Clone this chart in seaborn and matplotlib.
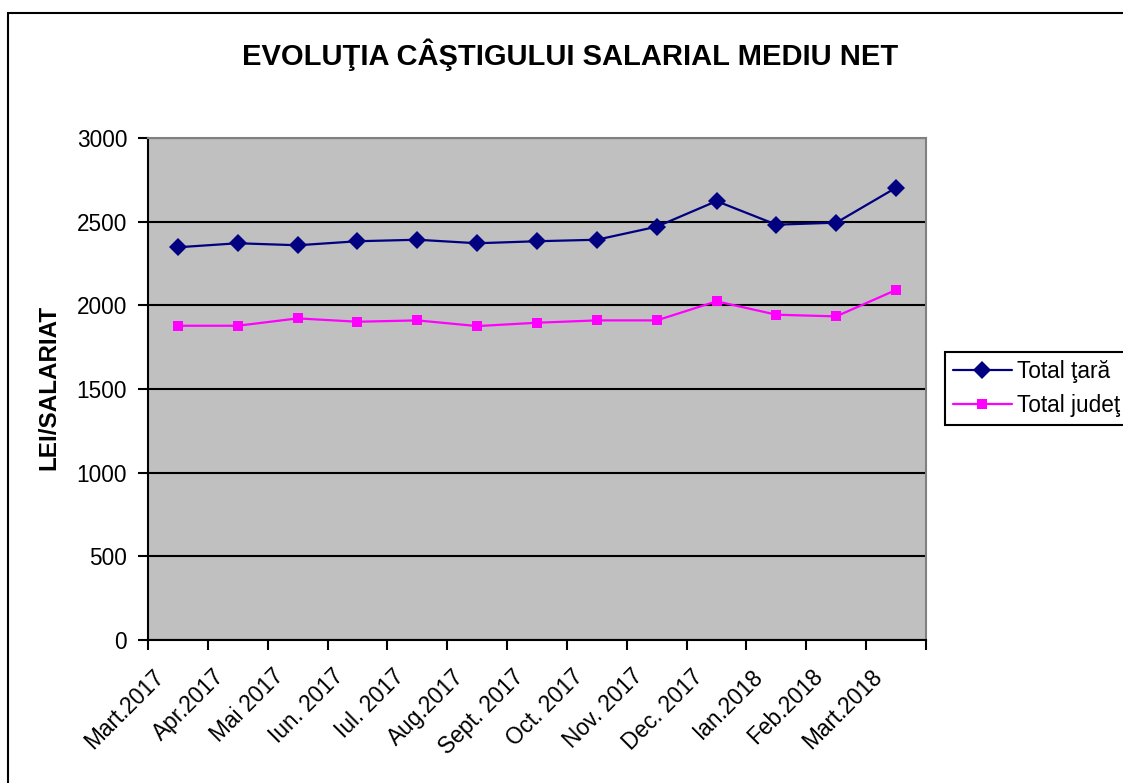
import matplotlib
matplotlib.use("Agg")
import matplotlib.pyplot as plt
import matplotlib.transforms as mtransforms
from matplotlib.patches import Rectangle
import numpy as np
import pandas as pd
import seaborn as sns

months = ["Mart.2017", "Apr.2017", "Mai 2017", "Iun. 2017", "Iul. 2017", "Aug.2017",
          "Sept. 2017", "Oct. 2017", "Nov. 2017", "Dec. 2017", "Ian.2018", "Feb.2018", "Mart.2018"]
total_tara = [2347, 2371, 2359, 2383, 2392, 2371, 2383, 2392, 2470, 2623, 2482, 2494, 2703]
total_judet = [1878, 1878, 1922, 1902, 1910, 1876, 1896, 1910, 1910, 2024, 1944, 1934, 2092]
series_names = ["Total ţară", "Total judeţ"]
y_ticks = [0, 500, 1000, 1500, 2000, 2500, 3000]

sns.set_theme(style="white")
plt.rcParams["font.family"] = ["Liberation Sans", "DejaVu Sans"]
plt.rcParams["text.color"] = "black"
plt.rcParams["axes.labelcolor"] = "black"
plt.rcParams["xtick.color"] = "black"
plt.rcParams["ytick.color"] = "black"

pos = np.arange(len(months))
df = pd.DataFrame({
    "pos": np.concatenate([pos, pos]),
    "value": total_tara + total_judet,
    "series": [series_names[0]] * len(months) + [series_names[1]] * len(months),
})

W, H = 1123, 783
fig = plt.figure(figsize=(W / 100, H / 100), dpi=100)
fig.patch.set_facecolor("white")
ax = fig.add_axes([148 / W, 1 - 640 / H, (926 - 148) / W, (640 - 138) / H])
ax.set_facecolor("#C0C0C0")

palette = {series_names[0]: "#000080", series_names[1]: "#FF00FF"}
markers = {series_names[0]: "D", series_names[1]: "s"}
sns.lineplot(data=df, x="pos", y="value", hue="series", style="series",
             palette=palette, markers=markers, dashes=False, linewidth=1.6,
             markersize=8, markeredgewidth=0, ax=ax, legend=True, zorder=3)
for line in ax.lines:
    if line.get_marker() == "s":
        line.set_markersize(7.5)
    elif line.get_marker() == "D":
        line.set_markersize(9)

ax.set_xlim(-0.5, len(months) - 0.5)
ax.set_ylim(0, 3000)
ax.set_yticks(y_ticks)
ax.set_yticklabels([str(v) for v in y_ticks], fontsize=16.3)
ax.yaxis.grid(True, color="black", linewidth=1.5)
ax.xaxis.grid(False)
ax.set_axisbelow(True)

ax.set_xticks(pos)
ax.set_xticklabels(months, fontsize=16.3, rotation=45, ha="right")
ax.set_xticks(np.arange(len(months) + 1) - 0.5, minor=True)
ax.tick_params(axis="x", which="major", length=0, pad=18)
ax.tick_params(axis="x", which="minor", length=7, width=1.5, color="black", direction="out", bottom=True)
ax.tick_params(axis="y", which="major", length=7, width=1.5, color="black", direction="out", left=True, pad=8)
offset = mtransforms.ScaledTranslation(-9 / 100, 0, fig.dpi_scale_trans)
for lbl in ax.get_xticklabels():
    lbl.set_transform(lbl.get_transform() + offset)

for s in ["left", "bottom"]:
    ax.spines[s].set_color("black")
    ax.spines[s].set_linewidth(1.5)
for s in ["top", "right"]:
    ax.spines[s].set_color("#808080")
    ax.spines[s].set_linewidth(1.5)

ax.set_xlabel("")
ax.set_ylabel("LEI/SALARIAT", fontsize=17.5, fontweight="bold")
ax.yaxis.set_label_coords(-0.113, 0.504)

fig.text(570 / W, 1 - 55 / H, "EVOLUŢIA CÂŞTIGULUI SALARIAL MEDIU NET",
         ha="center", va="center", fontsize=21, fontweight="bold")

leg = ax.legend(loc="upper left", bbox_to_anchor=(945 / W, 1 - 352 / H),
                bbox_transform=fig.transFigure, fontsize=16.3, frameon=True,
                fancybox=False, edgecolor="black", framealpha=1, borderaxespad=0,
                borderpad=0.35, handlelength=2.6, handletextpad=0.25, labelspacing=0.5)
leg.get_frame().set_linewidth(1.5)

fig.patches.append(Rectangle((8 / W, -0.1), 1.2, (H - 13) / H + 0.1,
                             transform=fig.transFigure, fill=False,
                             edgecolor="black", linewidth=1.5, zorder=10))

fig.savefig("out.png", dpi=100)
